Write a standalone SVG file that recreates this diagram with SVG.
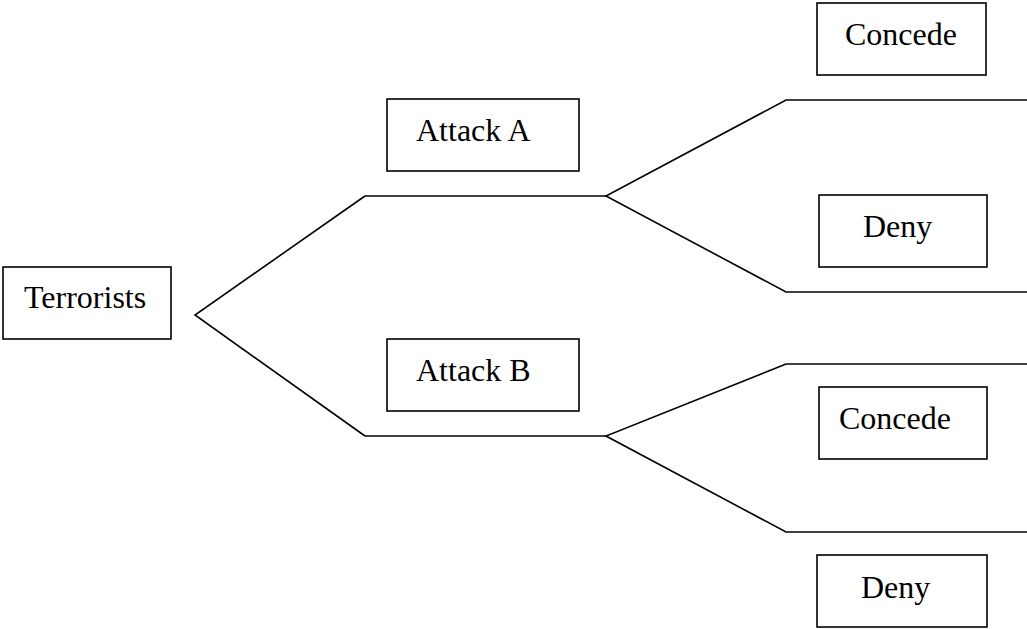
<svg xmlns="http://www.w3.org/2000/svg" width="1027" height="629" viewBox="0 0 1027 629">
<style>
.box{fill:#fff;stroke:#000;stroke-width:1.6}
.lbl{font-family:"Liberation Serif","Times New Roman",serif;font-size:32px;fill:#000}
.ln{fill:none;stroke:#000;stroke-width:1.6}
</style>
<rect width="1027" height="629" fill="#fff"/>
<g id="connectors">
<polyline class="ln" points="365,196 195,315 365,436"/>
<line class="ln" x1="365" y1="196" x2="606" y2="196"/>
<line class="ln" x1="365" y1="436" x2="606" y2="436"/>
<polyline class="ln" points="1027,100 786,100 606,196 786,292 1027,292"/>
<polyline class="ln" points="1027,364 786,364 606,436 786,532 1027,532"/>
</g>
<g id="terrorists"><rect class="box" x="3" y="267" width="168" height="72"/><text class="lbl" x="24" y="308">Terrorists</text></g>
<g id="attackA"><rect class="box" x="387" y="99" width="192" height="72"/><text class="lbl" x="416" y="141">Attack A</text></g>
<g id="attackB"><rect class="box" x="387" y="339" width="192" height="72"/><text class="lbl" x="416" y="381">Attack B</text></g>
<g id="concedeA"><rect class="box" x="817" y="3" width="169" height="72"/><text class="lbl" x="845" y="45">Concede</text></g>
<g id="denyA"><rect class="box" x="819" y="195" width="168" height="72"/><text class="lbl" x="863" y="237">Deny</text></g>
<g id="concedeB"><rect class="box" x="819" y="387" width="168" height="72"/><text class="lbl" x="839" y="429">Concede</text></g>
<g id="denyB"><rect class="box" x="817" y="555" width="170" height="72"/><text class="lbl" x="861" y="598">Deny</text></g>
</svg>
